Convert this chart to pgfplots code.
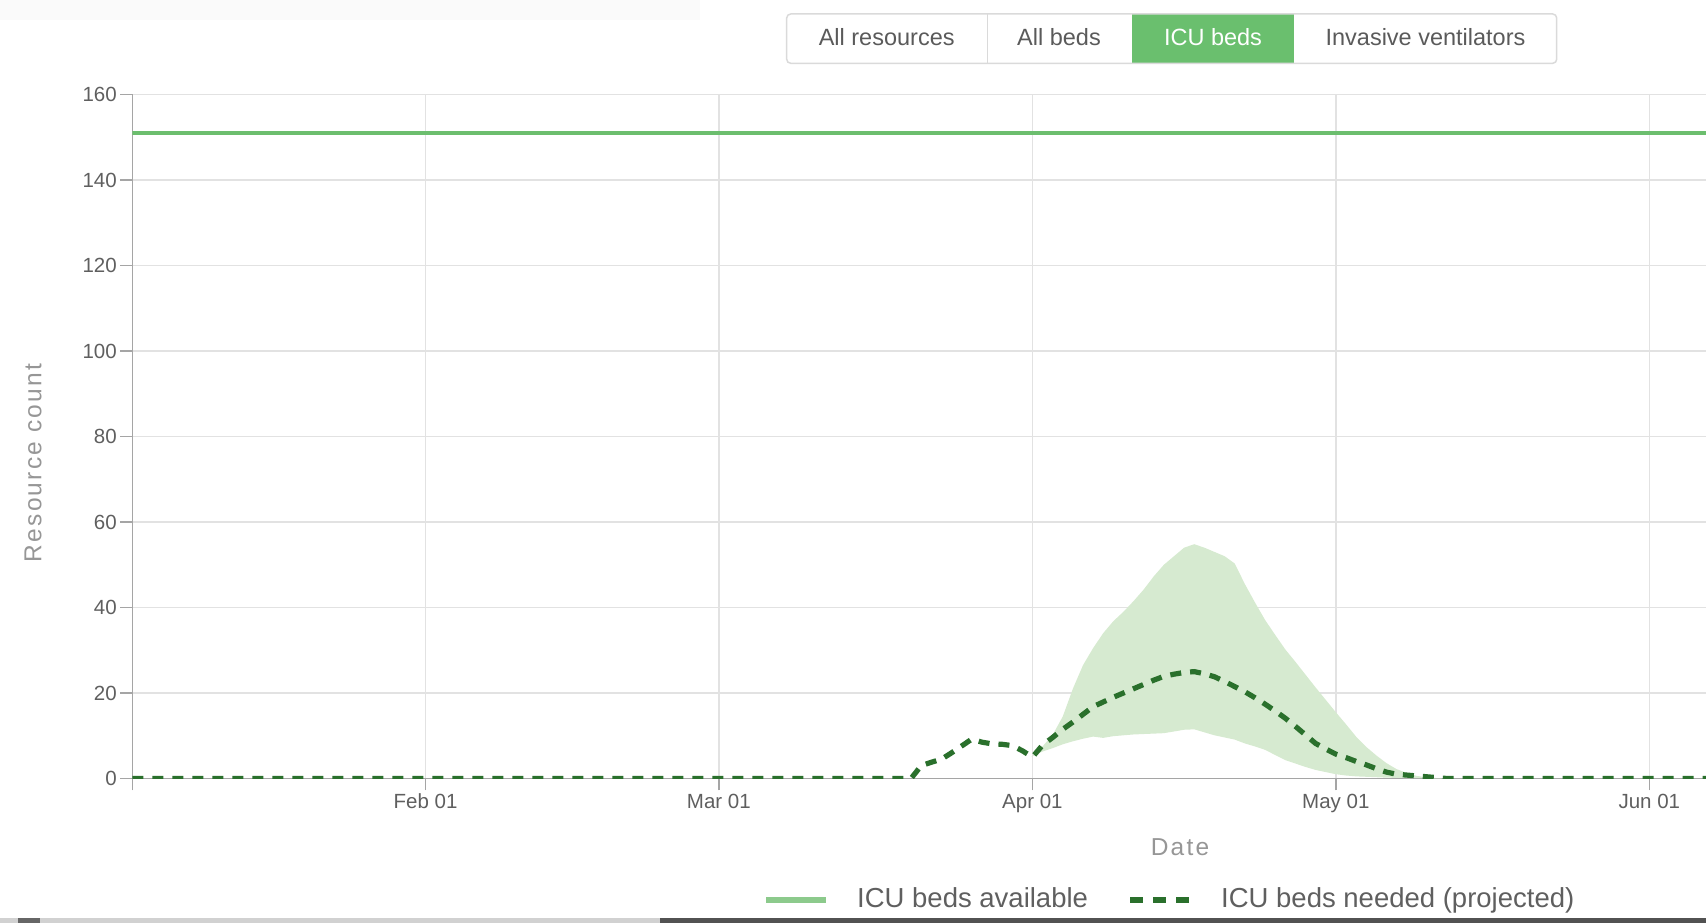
\documentclass[border=0pt]{standalone}
\usepackage{fontspec}
\setmainfont{Liberation Sans}
\usepackage{pgfplots}
\pgfplotsset{compat=1.18}
\usepackage{pgfplotstable}

\definecolor{bandgreen}{RGB}{214,234,208}
\definecolor{dashgreen}{RGB}{42,112,44}
\definecolor{linegreen}{RGB}{108,190,110}
\definecolor{legendgreen}{RGB}{140,202,140}
\definecolor{btngreen}{RGB}{106,191,110}
\definecolor{gridgray}{RGB}{226,226,226}
\definecolor{axisgray}{RGB}{165,165,165}
\definecolor{tickgray}{RGB}{95,95,95}
\definecolor{labelgray}{RGB}{150,150,150}
\definecolor{btntext}{RGB}{90,90,90}
\definecolor{btnborder}{RGB}{218,218,218}

\pgfplotstableread{
day val
2 0
79 0
80 3.0
81 3.8
82 4.5
83 6.0
84 7.6
85 9.2
86 8.5
87 8.1
88 8.0
89 7.7
90 6.5
91 5.0
92 7.8
93 9.6
94 11.5
95 13.2
96 15.0
97 16.8
98 17.9
99 19.0
100 20.0
101 21.0
102 22.0
103 23.0
104 23.9
105 24.4
106 24.8
107 25.0
108 24.5
109 23.8
110 22.7
111 21.5
112 20.3
113 18.9
114 17.4
115 15.8
116 14.1
117 12.2
118 10.2
119 8.2
120 6.9
121 5.7
122 4.9
123 4.0
124 3.2
125 2.3
126 1.5
127 1.0
128 0.8
129 0.6
130 0.4
131 0.2
132 0
157.6 0
}\needed

% band: upper bound forward, then lower bound backward
\pgfplotstableread{
day val
90.9 5.1
92 7.5
93 10.2
94 14.5
95 21.0
96 26.5
97 30.5
98 34.0
99 36.8
100 39.0
101 41.5
102 44.2
103 47.3
104 50.0
105 52.0
106 54.0
107 54.8
108 54.0
109 53.0
110 52.0
111 50.3
112 45.5
113 41.2
114 37.1
115 33.6
116 30.2
117 27.3
118 24.3
119 21.3
120 18.4
121 15.5
122 12.7
123 9.8
124 7.4
125 5.4
126 3.6
127 2.2
128 1.3
129 0.6
130 0.3
131 0.1
132 0
128 0.1
126 0.2
125 0.3
124 0.4
123 0.5
122 0.7
121 1.0
120 1.5
119 2.0
118 2.7
117 3.5
116 4.3
115 5.5
114 6.7
113 7.5
112 8.2
111 9.1
110 9.6
109 10.1
108 10.8
107 11.5
106 11.4
105 11.0
104 10.6
103 10.5
102 10.4
101 10.3
100 10.1
99 9.9
98 9.5
97 9.8
96 9.3
95 8.7
94 8.0
93 7.1
92 6.3
90.9 5.1
}\band

\pgfplotstableread{
day val
2 151
157.6 151
}\available

\begin{document}
\begin{tikzpicture}[x=1pt,y=1pt]
\path[use as bounding box] (0,0) rectangle (1706,923);
% faint top-left remnant
\fill[black!2] (0,923) rectangle (700,903);
% buttons
\fill[btngreen] (1131.7,859.7) rectangle (1294,909);
\draw[btnborder, line width=1.5pt, rounded corners=4pt] (786.7,859.7) rectangle (1556.7,909);
\draw[btnborder, line width=1.5pt] (987.3,859.7) -- (987.3,909);
\node[font=\fontsize{23.5}{28}\selectfont, text=btntext] at (886.7,885.7) {All resources};
\node[font=\fontsize{23.5}{28}\selectfont, text=btntext] at (1059,885.7) {All beds};
\node[font=\fontsize{23.5}{28}\selectfont, text=white] at (1213,885.7) {ICU beds};
\node[font=\fontsize{23.5}{28}\selectfont, text=btntext] at (1425.5,885.7) {Invasive ventilators};

\begin{axis}[
  at={(132.3pt,144.5pt)}, anchor=south west,
  scale only axis, width=1573.7pt, height=684pt,
  xmin=2, xmax=157.6, ymin=0, ymax=160,
  axis lines=left,
  axis line style={-, draw=axisgray, line width=1.5pt},
  xtick={31,60,91,121,152},
  xticklabels={Feb 01,Mar 01,Apr 01,May 01,Jun 01},
  ytick={0,20,...,160},
  extra x ticks={2}, extra x tick labels={},
  extra x tick style={grid=none},
  grid=major,
  major grid style={draw=gridgray, line width=1.5pt},
  tick align=outside, major tick length=12pt,
  tick style={draw=axisgray, line width=1.5pt},
  ticklabel style={font=\fontsize{20.5}{24}\selectfont, text=tickgray},
  /pgf/number format/assume math mode=true,
  clip=true,
]
\addplot[draw=none, fill=bandgreen] table[x=day,y=val] {\band};
\addplot[linegreen, line width=4pt] table[x=day,y=val] {\available};
\addplot[dashgreen, line width=5.2pt, dash pattern=on 11pt off 9pt] table[x=day,y=val] {\needed};
\end{axis}

% axis titles
\node[rotate=90, font=\fontsize{24.5}{28}\selectfont\addfontfeature{LetterSpace=9}, text=labelgray] at (33,460) {Resource count};
\node[font=\fontsize{24.5}{28}\selectfont\addfontfeature{LetterSpace=9}, text=labelgray] at (1180,76) {Date};

% legend
\draw[legendgreen, line width=6pt] (766,23) -- (826,23);
\node[anchor=base west, inner sep=0pt, font=\fontsize{27.5}{32}\selectfont, text=tickgray] at (857,15) {ICU beds available};
\draw[dashgreen, line width=6pt, dash pattern=on 13pt off 10pt] (1130,23) -- (1189,23);
\node[anchor=base west, inner sep=0pt, font=\fontsize{27.5}{32}\selectfont, text=tickgray] at (1221,15) {ICU beds needed (projected)};

% bottom strip
\fill[black!18] (0,0) rectangle (660,5);
\fill[black!60] (18,0) rectangle (40,5);
\fill[black!68] (660,0) rectangle (1706,5);
\end{tikzpicture}
\end{document}
